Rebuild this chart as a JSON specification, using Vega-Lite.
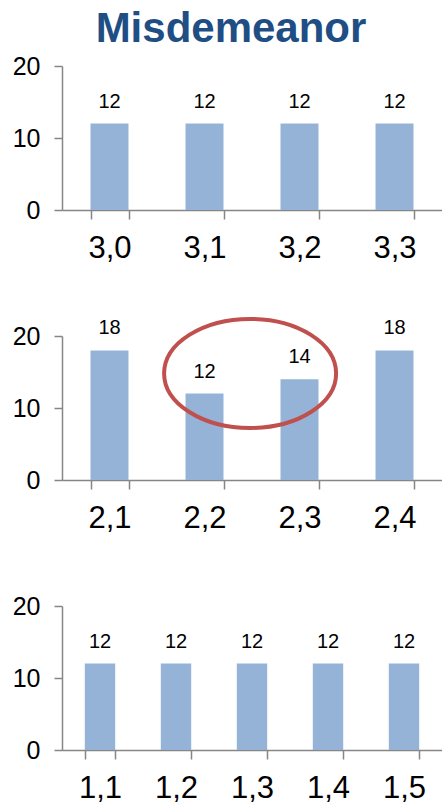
{
  "$schema": "https://vega.github.io/schema/vega-lite/v6.json",
  "padding": {"left": 0, "top": 8, "right": 0, "bottom": 0},
  "background": "white",
  "bounds": "flush",
  "spacing": 126,
  "title": {
    "text": "Misdemeanor",
    "font": "Liberation Sans",
    "fontSize": 42,
    "fontWeight": "bold",
    "color": "#1F4E85",
    "anchor": "middle",
    "dx": 10,
    "offset": 3
  },
  "datasets": {
    "row3": [
      {"cell": "3,0", "count": 12},
      {"cell": "3,1", "count": 12},
      {"cell": "3,2", "count": 12},
      {"cell": "3,3", "count": 12}
    ],
    "row2": [
      {"cell": "2,1", "count": 18},
      {"cell": "2,2", "count": 12},
      {"cell": "2,3", "count": 14},
      {"cell": "2,4", "count": 18}
    ],
    "row1": [
      {"cell": "1,1", "count": 12},
      {"cell": "1,2", "count": 12},
      {"cell": "1,3", "count": 12},
      {"cell": "1,4", "count": 12},
      {"cell": "1,5", "count": 12}
    ],
    "highlight": [
      {"between": 1.98, "count": 14.8}
    ]
  },
  "config": {
    "view": {"stroke": null},
    "font": "Liberation Sans",
    "axis": {
      "grid": false,
      "title": null,
      "domainColor": "#868686",
      "tickColor": "#868686",
      "domainWidth": 1.5,
      "tickWidth": 1.5,
      "labelColor": "#000000",
      "labelFont": "Liberation Sans"
    },
    "axisX": {
      "labelFontSize": 31,
      "labelAngle": 0,
      "tickBand": "extent",
      "tickSize": 9,
      "labelPadding": 14
    },
    "axisY": {
      "labelFontSize": 25,
      "tickSize": 8,
      "labelPadding": 14,
      "minExtent": 62,
      "maxExtent": 62
    },
    "scale": {"bandPaddingInner": 0.6, "bandPaddingOuter": 0.3}
  },
  "vconcat": [
    {
      "width": 380,
      "height": 144,
      "data": {"name": "row3"},
      "encoding": {
        "x": {"field": "cell", "type": "nominal", "sort": null},
        "y": {"field": "count", "type": "quantitative", "scale": {"domain": [0, 20]}, "axis": {"values": [0, 10, 20]}}
      },
      "layer": [
        {"mark": {"type": "bar", "color": "#95B3D7"}},
        {"mark": {"type": "text", "fontSize": 20, "baseline": "alphabetic", "dy": -16, "color": "#000000"}, "encoding": {"text": {"field": "count"}}}
      ]
    },
    {
      "width": 380,
      "height": 144,
      "layer": [
        {
          "data": {"name": "row2"},
          "encoding": {
            "x": {"field": "cell", "type": "nominal", "sort": null},
            "y": {"field": "count", "type": "quantitative", "scale": {"domain": [0, 20]}, "axis": {"values": [0, 10, 20]}}
          },
          "layer": [
            {"mark": {"type": "bar", "color": "#95B3D7"}},
            {"mark": {"type": "text", "fontSize": 20, "baseline": "alphabetic", "dy": -16, "color": "#000000"}, "encoding": {"text": {"field": "count"}}}
          ]
        },
        {
          "data": {"name": "highlight"},
          "mark": {
            "type": "point",
            "shape": "M -1 0 C -1 -0.35 -0.5523 -0.634 0 -0.634 C 0.5523 -0.634 1 -0.35 1 0 C 1 0.35 0.5523 0.634 0 0.634 C -0.5523 0.634 -1 0.35 -1 0 Z",
            "size": 29584,
            "filled": false,
            "stroke": "#C0504D",
            "strokeWidth": 4,
            "opacity": 1,
            "clip": false
          },
          "encoding": {
            "x": {"field": "between", "type": "quantitative", "scale": {"domain": [0, 4]}, "axis": null},
            "y": {"field": "count", "type": "quantitative"}
          }
        }
      ],
      "resolve": {"scale": {"x": "independent"}}
    },
    {
      "width": 380,
      "height": 144,
      "data": {"name": "row1"},
      "encoding": {
        "x": {"field": "cell", "type": "nominal", "sort": null},
        "y": {"field": "count", "type": "quantitative", "scale": {"domain": [0, 20]}, "axis": {"values": [0, 10, 20]}}
      },
      "layer": [
        {"mark": {"type": "bar", "color": "#95B3D7"}},
        {"mark": {"type": "text", "fontSize": 20, "baseline": "alphabetic", "dy": -16, "color": "#000000"}, "encoding": {"text": {"field": "count"}}}
      ]
    }
  ]
}
